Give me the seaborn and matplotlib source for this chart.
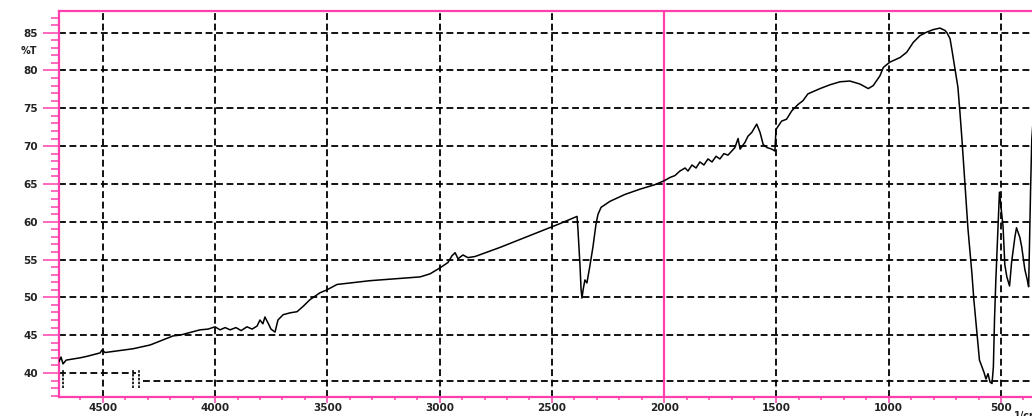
import matplotlib
matplotlib.use("Agg")
import matplotlib.pyplot as plt
import pandas as pd
import seaborn as sns
from matplotlib.ticker import MultipleLocator, FixedLocator
from matplotlib.transforms import blended_transform_factory

# FTIR transmission spectrum (wavenumber in 1/cm, transmittance in %T)
wavenumber = [
    4695, 4686, 4677, 4663, 4601, 4570, 4512, 4503, 4490, 4365,
    4289, 4187, 4156, 4067, 4031, 4000, 3978, 3955, 3933, 3907,
    3884, 3858, 3835, 3813, 3800, 3787, 3778, 3764, 3751, 3733,
    3720, 3697, 3666, 3635, 3608, 3577, 3533, 3501, 3457, 3399,
    3310, 3176, 3087, 3043, 2998, 2963, 2945, 2931, 2918, 2896,
    2874, 2842, 2731, 2553, 2464, 2388, 2384, 2375, 2370, 2366,
    2361, 2353, 2344, 2330, 2317, 2304, 2295, 2281, 2241, 2175,
    2108, 2041, 2001, 1974, 1952, 1930, 1907, 1894, 1876, 1858,
    1841, 1823, 1805, 1787, 1769, 1752, 1734, 1716, 1685, 1671,
    1662, 1640, 1627, 1610, 1588, 1573, 1559, 1542, 1521, 1507,
    1502, 1477, 1455, 1432, 1404, 1382, 1360, 1306, 1262, 1217,
    1173, 1128, 1091, 1069, 1039, 1024, 995, 950, 920, 891,
    861, 832, 802, 772, 750, 741, 727, 719, 705, 692,
    683, 674, 661, 647, 630, 621, 607, 596, 585, 576,
    567, 558, 549, 540, 534, 529, 523, 514, 507, 491,
    483, 474, 462, 453, 438, 431, 416, 408, 394, 383,
    377, 374, 368, 363, 358,
]
transmittance = [
    41.5, 42.1, 41.2, 41.7, 42.0, 42.2, 42.65, 43.05, 42.7, 43.2,
    43.7, 44.9, 45.0, 45.7, 45.8, 46.1, 45.7, 46.0, 45.7, 46.0,
    45.6, 46.1, 45.8, 46.2, 47.0, 46.5, 47.4, 46.6, 45.8, 45.4,
    47.0, 47.7, 47.95, 48.1, 48.8, 49.7, 50.6, 51.0, 51.7, 51.9,
    52.2, 52.5, 52.7, 53.1, 53.9, 54.6, 55.5, 55.9, 55.1, 55.6,
    55.25, 55.4, 56.6, 58.7, 59.75, 60.7, 59.0, 54.3, 51.0, 49.9,
    51.0, 52.3, 51.9, 54.3, 56.7, 59.6, 60.95, 61.9, 62.7, 63.6,
    64.3, 64.9, 65.4, 65.85, 66.1, 66.7, 67.1, 66.7, 67.5, 67.1,
    67.9, 67.5, 68.3, 67.9, 68.65, 68.3, 69.0, 68.8, 69.8, 71.0,
    69.6, 70.5, 71.3, 71.8, 72.9, 71.8, 70.2, 69.8, 69.6, 69.35,
    72.2, 73.3, 73.55, 74.65, 75.5, 76.0, 76.9, 77.6, 78.1, 78.5,
    78.6, 78.2, 77.6, 78.0, 79.3, 80.4, 81.1, 81.7, 82.4, 83.7,
    84.6, 85.05, 85.4, 85.6, 85.3, 85.0, 84.2, 82.8, 80.2, 77.8,
    74.5, 70.9, 65.2, 59.0, 53.3, 49.7, 45.3, 41.7, 40.8, 40.1,
    39.2, 39.9, 38.8, 38.6, 40.8, 47.0, 52.3, 59.0, 63.9, 59.4,
    54.3, 52.7, 51.5, 54.6, 58.0, 59.2, 57.9, 56.7, 53.7, 52.3,
    51.4, 55.9, 64.7, 70.9, 73.0,
]

# Short dotted recorder marks near the baseline
mark_wavenumbers = [4677, 4366, 4340]

x_ticks = [4500, 4000, 3500, 3000, 2500, 2000, 1500, 1000, 500]
x_tick_labels = ["4500", "4000", "3500", "3000", "2500", "2000", "1500", "1000", "500"]
y_ticks = [40, 45, 50, 55, 60, 65, 70, 75, 80, 85]
y_tick_labels = ["40", "45", "50", "55", "60", "65", "70", "75", "80", "85"]

PINK = "#ff3fac"
INK = "#222222"

sns.set_style("white")
plt.rcParams["font.family"] = ["DejaVu Sans"]

spectrum = pd.DataFrame({"wavenumber": wavenumber, "transmittance": transmittance})

fig = plt.figure(figsize=(10.32, 4.16), dpi=100)
ax = fig.add_axes([59 / 1032, 1 - 396.7 / 416, 1 - 59 / 1032, 386.0 / 416])

ax.set_xlim(4695, 362)
ax.set_ylim(36.86, 87.9)

# dashed chart-paper grid
dash = (0, (3.8, 2.0))
for xv in x_ticks:
    if xv != 2000:
        ax.axvline(xv, color="black", lw=1.3, ls=dash, zorder=1)
for yv in y_ticks:
    if yv != 40:
        ax.axhline(yv, color="black", lw=1.3, ls=dash, zorder=1)
# the lowest rule is printed slightly below its tick on most of the sheet
ax.hlines(40, 4695, 4350, color="black", lw=1.3, ls=dash, zorder=1)
ax.hlines(38.9, 4320, 362, color="black", lw=1.3, ls=dash, zorder=1)

ax.axvline(2000, color=PINK, lw=1.6, zorder=2)

ax.vlines(mark_wavenumbers, 38.0, 40.4, colors="black", lw=1.2,
          linestyles=(0, (1.5, 0.8)), zorder=3)

sns.lineplot(data=spectrum, x="wavenumber", y="transmittance", ax=ax,
             sort=False, estimator=None, color="black", lw=1.1, zorder=4)

ax.set_xlabel("")
ax.set_ylabel("")

for side in ("left", "top", "bottom"):
    ax.spines[side].set_visible(True)
    ax.spines[side].set_color(PINK)
    ax.spines[side].set_linewidth(1.6)
ax.spines["right"].set_visible(False)

ax.xaxis.set_major_locator(FixedLocator(x_ticks))
ax.xaxis.set_minor_locator(MultipleLocator(100))
ax.set_xticks(x_ticks)
ax.set_xticklabels(x_tick_labels)
ax.yaxis.set_major_locator(FixedLocator(y_ticks))
ax.yaxis.set_minor_locator(MultipleLocator(1))
ax.set_yticks(y_ticks)
ax.set_yticklabels(y_tick_labels)

ax.tick_params(axis="y", which="major", direction="out", length=11.5, width=1.1,
               color=PINK, pad=3.5, labelsize=7.5, left=True)
ax.tick_params(axis="y", which="minor", direction="out", length=5.8, width=1.1,
               color=PINK, left=True)
ax.tick_params(axis="x", which="major", direction="out", length=4.0, width=1.1,
               color=PINK, pad=0.5, labelsize=7.5, bottom=True)
ax.tick_params(axis="x", which="minor", direction="out", length=2.5, width=1.1,
               color=PINK, bottom=True)
for lab in ax.get_xticklabels() + ax.get_yticklabels():
    lab.set_fontweight("bold")
    lab.set_color(INK)

ax.text(-0.0226, 82.6, "%T", transform=blended_transform_factory(ax.transAxes, ax.transData),
        ha="right", va="center", fontsize=7, fontweight="bold", color=INK)
# axis unit, running off the lower right corner of the sheet
fig.text(1014 / 1032, 1 - 410.5 / 416, "1/cm", ha="left", va="top",
         fontsize=7, fontweight="bold", color=INK)

fig.savefig("out.png", dpi=100)
